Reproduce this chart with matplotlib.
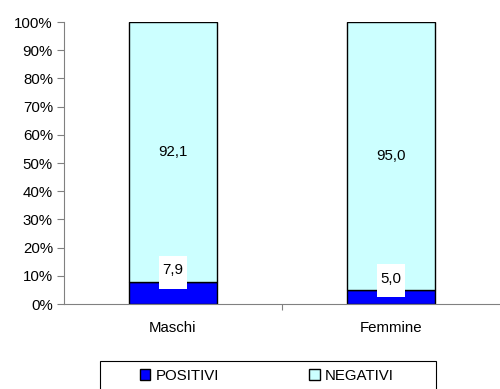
import matplotlib
matplotlib.use("Agg")
import matplotlib.pyplot as plt
from matplotlib.patches import Rectangle
import numpy as np

plt.rcParams['font.family'] = ['Liberation Sans', 'DejaVu Sans']

categories = ["Maschi", "Femmine"]
positivi = [7.9, 5.0]
negativi = [92.1, 95.0]
pos_labels = ["7,9", "5,0"]
neg_labels = ["92,1", "95,0"]
yticks = [0, 10, 20, 30, 40, 50, 60, 70, 80, 90, 100]

FS = 10.8
fig = plt.figure(figsize=(5.0, 3.89), dpi=100)
ax = fig.add_axes([0.128, 0.2185, 0.872, 0.7249])

x = np.arange(len(categories))
w = 0.4
b1 = ax.bar(x, positivi, width=w, color="#0000FF", edgecolor="black", linewidth=1.0, label="POSITIVI")
b2 = ax.bar(x, negativi, width=w, bottom=positivi, color="#CCFFFF", edgecolor="black", linewidth=1.0, label="NEGATIVI")

for xi, p, n, pl, nl in zip(x, positivi, negativi, pos_labels, neg_labels):
    ax.add_patch(Rectangle((xi - 0.064, p + 3.3 - 5.85), 0.128, 11.7,
                           facecolor="white", edgecolor="none", zorder=3))
    ax.text(xi, p + 4.0, pl, ha="center", va="center", fontsize=FS, zorder=4)
    ax.text(xi, p + n / 2, nl, ha="center", va="center", fontsize=FS, zorder=4)

ax.set_xlim(-0.5, 1.5)
ax.set_ylim(0, 100)
ax.set_yticks(yticks)
ax.set_yticklabels([f"{t}%" for t in yticks], fontsize=FS)
ax.set_xticks([0.5])
ax.set_xticklabels([""])
ax.set_xticks(x, minor=True)
ax.set_xticklabels(categories, minor=True, fontsize=FS)
ax.tick_params(axis="x", which="minor", length=0, pad=12)
ax.tick_params(axis="x", which="major", length=4, direction="out", color="#808080")
ax.tick_params(axis="y", length=5, direction="out", color="#808080", pad=3)
for s in ["top", "right"]:
    ax.spines[s].set_visible(False)
ax.spines["left"].set_color("#808080")
ax.spines["bottom"].set_color("#808080")

# legend frame (extends beyond bottom edge as in reference)
fig.patches.append(Rectangle((100 / 500, -0.05), 336 / 500, 0.05 + 28.5 / 389,
                             transform=fig.transFigure, facecolor="white",
                             edgecolor="black", linewidth=0.8, figure=fig))
leg = fig.legend(handles=[b1, b2], labels=["POSITIVI", "NEGATIVI"], loc="center left",
                 bbox_to_anchor=(139.5 / 500, 1 - 375.5 / 389), ncol=2, frameon=False,
                 fontsize=FS, borderaxespad=0, borderpad=0,
                 handlelength=0.72, handleheight=0.72, handletextpad=0.35,
                 columnspacing=6.0)

fig.savefig("out.png", dpi=100)
